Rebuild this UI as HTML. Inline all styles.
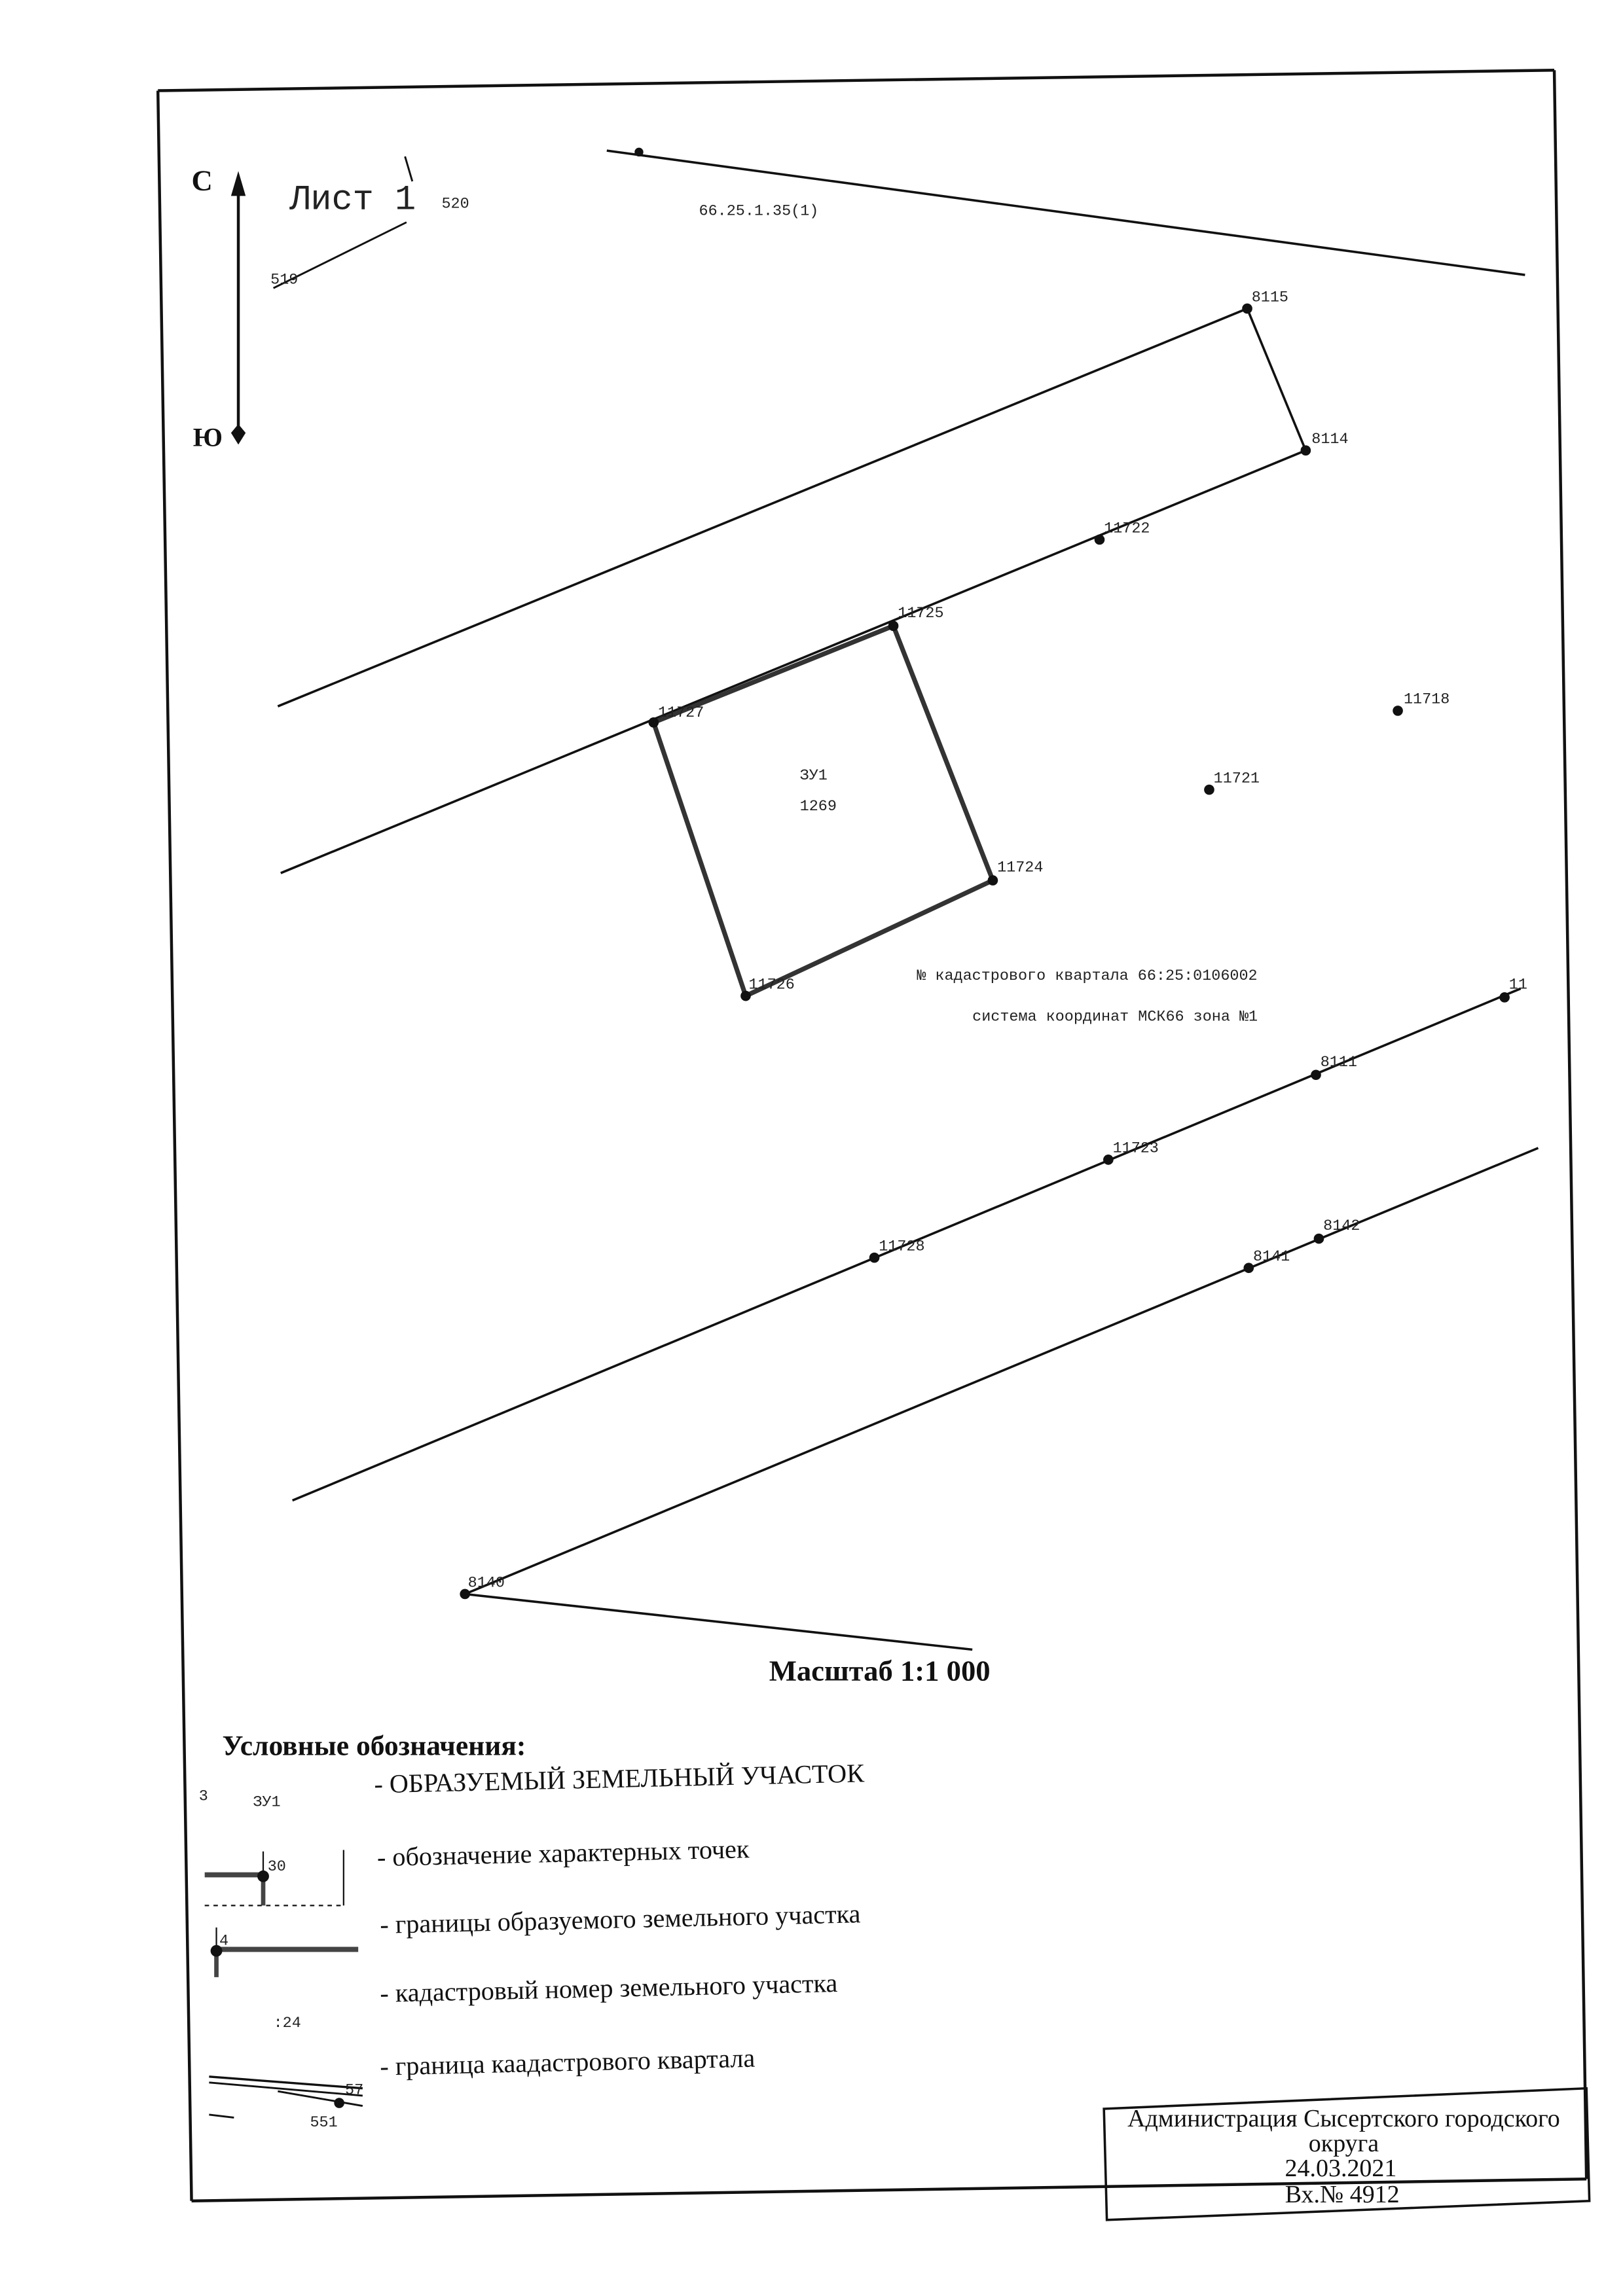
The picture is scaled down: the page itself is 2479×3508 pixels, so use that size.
<!DOCTYPE html>
<html><head><meta charset="utf-8"><style>
html,body{margin:0;padding:0;background:#fff}
svg{display:block}
.m{font-family:"Liberation Mono","DejaVu Sans Mono",monospace;fill:#222}
.s{font-family:"Liberation Serif","DejaVu Serif",serif;fill:#111}
</style></head><body>
<svg width="2479" height="3508" viewBox="0 0 1110 1570" preserveAspectRatio="none" xmlns="http://www.w3.org/2000/svg">
<rect width="1110" height="1570" fill="#fff"/>
<g stroke="#111" fill="none" stroke-width="1.6">
<line x1="108" y1="62" x2="1063" y2="48" stroke-width="2"/>
<line x1="108" y1="62" x2="131" y2="1505" stroke-width="2"/>
<line x1="1063" y1="48" x2="1085" y2="1490" stroke-width="2"/>
<line x1="131" y1="1505" x2="1085" y2="1490" stroke-width="2"/>
<polygon points="755,1442 1085,1428 1087,1505 757,1518" stroke-width="1.6"/>
<line x1="163" y1="125" x2="163" y2="296" stroke-width="2"/>
<line x1="187" y1="197" x2="278" y2="152" stroke-width="1.3"/>
<line x1="277" y1="107" x2="282" y2="124" stroke-width="1.3"/>
<line x1="415" y1="103" x2="1043" y2="188"/>
<line x1="190" y1="483" x2="853" y2="211"/>
<line x1="853" y1="211" x2="893" y2="308"/>
<line x1="192" y1="597" x2="893" y2="308"/>
<line x1="200" y1="1026" x2="1040" y2="676"/>
<line x1="318" y1="1090" x2="1052" y2="785"/>
<line x1="318" y1="1090" x2="665" y2="1128"/>
<polygon points="447,494 611,428 679,602 510,681" stroke-width="3.2" stroke="#333"/>
<line x1="140" y1="1282" x2="180" y2="1282" stroke-width="3.5" stroke="#444"/>
<line x1="180" y1="1283" x2="180" y2="1303" stroke-width="3" stroke="#444"/>
<line x1="180" y1="1266" x2="180" y2="1283" stroke-width="1"/>
<line x1="235" y1="1265" x2="235" y2="1303" stroke-width="1"/>
<line x1="140" y1="1303" x2="235" y2="1303" stroke-width="1" stroke-dasharray="3,3"/>
<line x1="148" y1="1333" x2="245" y2="1333" stroke-width="3.5" stroke="#444"/>
<line x1="148" y1="1334" x2="148" y2="1352" stroke-width="3" stroke="#444"/>
<line x1="148" y1="1318" x2="148" y2="1334" stroke-width="1"/>
<line x1="143" y1="1420" x2="248" y2="1428" stroke-width="1.5"/>
<line x1="143" y1="1424" x2="248" y2="1433" stroke-width="1.3"/>
<line x1="190" y1="1430" x2="248" y2="1440" stroke-width="1.3"/>
<line x1="143" y1="1446" x2="160" y2="1448" stroke-width="1.3"/>
</g>
<polygon points="163,117 158,134 168,134" fill="#111"/>
<polygon points="163,304 158,296 163,290 168,296" fill="#111"/>
<g fill="#111">
<circle cx="437" cy="104" r="3"/>
<circle cx="853" cy="211" r="3.5"/><circle cx="893" cy="308" r="3.5"/>
<circle cx="752" cy="369" r="3.5"/><circle cx="611" cy="428" r="3.5"/>
<circle cx="447" cy="494" r="3.5"/><circle cx="679" cy="602" r="3.5"/>
<circle cx="510" cy="681" r="3.5"/><circle cx="956" cy="486" r="3.5"/>
<circle cx="827" cy="540" r="3.5"/><circle cx="1029" cy="682" r="3.5"/>
<circle cx="900" cy="735" r="3.5"/><circle cx="758" cy="793" r="3.5"/>
<circle cx="598" cy="860" r="3.5"/><circle cx="854" cy="867" r="3.5"/>
<circle cx="902" cy="847" r="3.5"/><circle cx="318" cy="1090" r="3.5"/>
<circle cx="180" cy="1283" r="4"/><circle cx="148" cy="1334" r="4"/>
<circle cx="232" cy="1438" r="3.5"/>
</g>
<text x="131" y="130" class="s" font-size="20" font-weight="bold">С</text>
<text x="132" y="305" class="s" font-size="18" font-weight="bold">Ю</text>
<text x="198" y="143" class="m" font-size="24">Лист 1</text>
<g class="m" font-size="10.5">
<text x="302" y="142">520</text>
<text x="185" y="194">519</text>
<text x="478" y="147">66.25.1.35(1)</text>
<text x="856" y="206">8115</text>
<text x="897" y="303">8114</text>
<text x="755" y="364">11722</text>
<text x="614" y="422">11725</text>
<text x="450" y="490">11727</text>
<text x="682" y="596">11724</text>
<text x="512" y="676">11726</text>
<text x="960" y="481">11718</text>
<text x="830" y="535">11721</text>
<text x="547" y="533">ЗУ1</text>
<text x="547" y="554">1269</text>
<text x="627" y="670">№ кадастрового квартала 66:25:0106002</text>
<text x="665" y="698">система координат МСК66 зона №1</text>
<text x="1032" y="676">11</text>
<text x="903" y="729">8111</text>
<text x="761" y="788">11723</text>
<text x="601" y="855">11728</text>
<text x="857" y="862">8141</text>
<text x="905" y="841">8142</text>
<text x="320" y="1085">8140</text>
<text x="136" y="1231">3</text>
<text x="173" y="1235">ЗУ1</text>
<text x="183" y="1279">30</text>
<text x="150" y="1330">4</text>
<text x="187" y="1386">:24</text>
<text x="236" y="1432">57</text>
<text x="212" y="1454">551</text>
</g>
<text x="526" y="1149" class="s" font-size="20" font-weight="bold">Масштаб 1:1 000</text>
<text x="152" y="1200" class="s" font-size="19.5" font-weight="bold">Условные обозначения:</text>
<g class="s" font-size="18">
<text x="256" y="1226" transform="rotate(-1.3 256 1226)">- ОБРАЗУЕМЫЙ ЗЕМЕЛЬНЫЙ УЧАСТОК</text>
<text x="258" y="1276" transform="rotate(-1.3 258 1276)">- обозначение характерных точек</text>
<text x="260" y="1322" transform="rotate(-1.3 260 1322)">- границы образуемого земельного участка</text>
<text x="260" y="1369" transform="rotate(-1.3 260 1369)">- кадастровый номер земельного участка</text>
<text x="260" y="1419" transform="rotate(-1.3 260 1419)">- граница каадастрового квартала</text>
</g>
<g class="s" font-size="17" text-anchor="middle">
<text x="919" y="1454">Администрация Сысертского городского</text>
<text x="919" y="1471">округа</text>
<text x="917" y="1488">24.03.2021</text>
<text x="918" y="1506">Вх.№ 4912</text>
</g>
</svg>
</body></html>
